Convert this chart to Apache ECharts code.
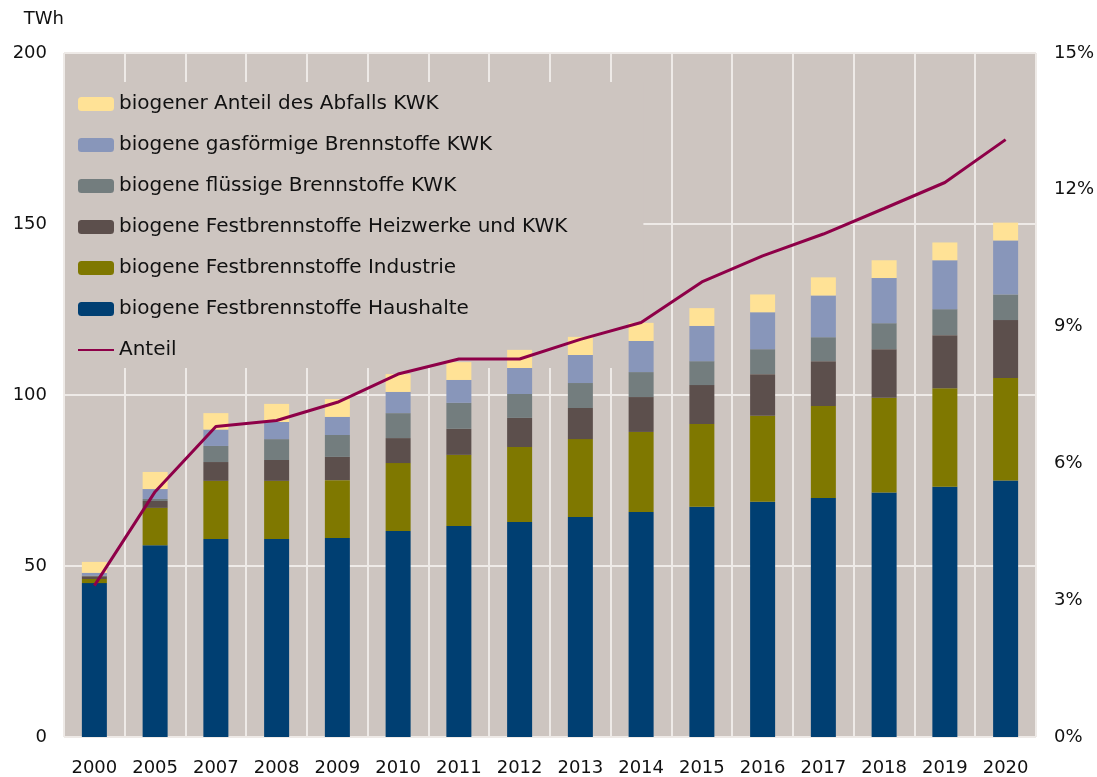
<!DOCTYPE html>
<html>
<head>
<meta charset="utf-8">
<script src="https://cdn.jsdelivr.net/npm/echarts@6/dist/echarts.min.js"></script>
<style>
  html, body { margin: 0; padding: 0; background: #fff; }
  #chart { width: 1097px; height: 777px; }
</style>
</head>
<body>
<div id="chart"></div>
<script>
// Jahre
var years = ['2000', '2005', '2007', '2008', '2009', '2010', '2011', '2012', '2013', '2014', '2015', '2016', '2017', '2018', '2019', '2020']
// TWh je Kategorie (von unten nach oben gestapelt)
var haushalte = [45.0, 56.1, 57.9, 57.9, 58.2, 60.2, 61.7, 62.9, 64.3, 65.8, 67.3, 68.8, 69.9, 71.5, 73.2, 75.0]
var industrie = [1.2, 10.9, 17.0, 17.0, 16.9, 19.9, 20.8, 21.9, 22.8, 23.4, 24.2, 25.1, 26.9, 27.7, 28.8, 30.0]
var heizwerke = [0.8, 2.0, 5.5, 6.1, 6.8, 7.3, 7.6, 8.5, 9.1, 10.2, 11.4, 12.2, 13.1, 14.2, 15.5, 16.9]
var fluessig = [0.2, 0.6, 4.7, 6.1, 6.4, 7.3, 7.6, 7.0, 7.3, 7.3, 7.0, 7.3, 7.0, 7.6, 7.6, 7.5]
var gasfoermig = [0.8, 2.9, 4.8, 5.0, 5.3, 6.2, 6.7, 7.6, 8.2, 9.1, 10.3, 10.8, 12.2, 13.2, 14.3, 15.8]
var abfall = [3.2, 5.0, 4.8, 5.3, 5.2, 5.2, 5.2, 5.3, 5.3, 5.3, 5.2, 5.2, 5.3, 5.2, 5.2, 5.2]
// Anteil in %
var anteil = [3.32, 5.38, 6.81, 6.94, 7.34, 7.96, 8.29, 8.29, 8.72, 9.09, 9.98, 10.55, 11.03, 11.59, 12.16, 13.10]

var font = "'DejaVu Sans', 'Liberation Sans', Arial, sans-serif"
var plotBg = '#CDC5C0'
var gridColor = '#EEEAE7'

function barSeries(name, data, color) {
  return {
    name: name,
    type: 'bar',
    stack: 'total',
    barWidth: 25,
    z: 4,
    itemStyle: { color: color },
    data: data
  }
}

var chartDom = document.getElementById('chart')
var myChart = echarts.init(chartDom)
var option = {
  animation: false,
  textStyle: { fontFamily: font },
  grid: {
    left: 64,
    right: 60,
    top: 53,
    bottom: 40,
    show: true,
    backgroundColor: plotBg,
    borderWidth: 0
  },
  legend: {
    orient: 'vertical',
    left: 65,
    top: 82,
    z: 3,
    padding: [12, 76, 8, 12],
    backgroundColor: plotBg,
    itemWidth: 36,
    itemHeight: 14,
    itemGap: 21,
    textStyle: { fontFamily: font, fontSize: 20, color: '#111', lineHeight: 20 },
    data: [
      'biogener Anteil des Abfalls KWK',
      'biogene gasförmige Brennstoffe KWK',
      'biogene flüssige Brennstoffe KWK',
      'biogene Festbrennstoffe Heizwerke und KWK',
      'biogene Festbrennstoffe Industrie',
      'biogene Festbrennstoffe Haushalte',
      { name: 'Anteil', itemStyle: { opacity: 0 } }
    ]
  },
  xAxis: {
    type: 'category',
    data: years,
    z: 2,
    axisLine: { show: false },
    axisTick: { show: false },
    axisLabel: { fontFamily: font, fontSize: 18, color: '#111', margin: 22, interval: 0 },
    splitLine: { show: true, interval: 0, lineStyle: { color: gridColor, width: 2 } }
  },
  yAxis: [
    {
      type: 'value',
      min: 0,
      max: 200,
      interval: 50,
      z: 1,
      name: 'TWh',
      nameLocation: 'end',
      nameGap: 25,
      nameTextStyle: { fontFamily: font, fontSize: 18, color: '#111', align: 'right' },
      axisLine: { show: false },
      axisTick: { show: false },
      axisLabel: { fontFamily: font, fontSize: 18, color: '#111', margin: 17 },
      splitLine: { show: true, lineStyle: { color: gridColor, width: 2 } }
    },
    {
      type: 'value',
      min: 0,
      max: 15,
      interval: 3,
      z: 0,
      position: 'right',
      axisLine: { show: false },
      axisTick: { show: false },
      axisLabel: { fontFamily: font, fontSize: 18, color: '#111', margin: 18, formatter: '{value}%' },
      splitLine: { show: false }
    }
  ],
  series: [
    barSeries('biogene Festbrennstoffe Haushalte', haushalte, '#003F72'),
    barSeries('biogene Festbrennstoffe Industrie', industrie, '#7F7800'),
    barSeries('biogene Festbrennstoffe Heizwerke und KWK', heizwerke, '#5C4F4C'),
    barSeries('biogene flüssige Brennstoffe KWK', fluessig, '#737D7E'),
    barSeries('biogene gasförmige Brennstoffe KWK', gasfoermig, '#8896BA'),
    barSeries('biogener Anteil des Abfalls KWK', abfall, '#FFE296'),
    {
      name: 'Anteil',
      type: 'line',
      yAxisIndex: 1,
      symbol: 'none',
      lineStyle: { color: '#8E0048', width: 3 },
      itemStyle: { color: '#8E0048' },
      z: 6,
      data: anteil
    }
  ]
}
myChart.setOption(option)
</script>
</body>
</html>
